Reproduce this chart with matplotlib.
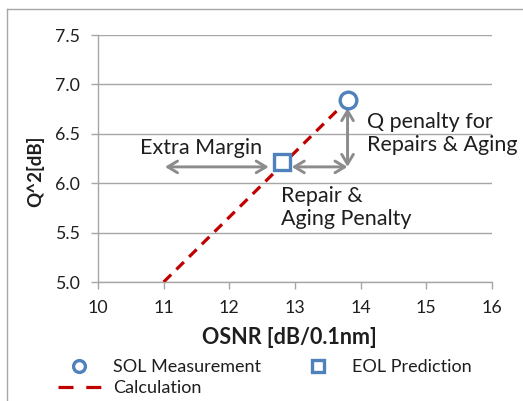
import matplotlib
matplotlib.use("Agg")
import matplotlib.pyplot as plt
from matplotlib.lines import Line2D

plt.rcParams['font.family'] = ['Lato', 'DejaVu Sans']

# Data
sol_x = [13.8]
sol_y = [6.84]
eol_x = [12.8]
eol_y = [6.215]
calc_x = [11.0, 13.8]
calc_y = [5.0, 6.84]
x_ticks = [10, 11, 12, 13, 14, 15, 16]
y_ticks = [5.0, 5.5, 6.0, 6.5, 7.0, 7.5]
y_tick_labels = ["5.0", "5.5", "6.0", "6.5", "7.0", "7.5"]

BLUE = "#4F81BD"
RED = "#C00000"
GRAY = "#8C8C8C"
GRID = "#A6A6A6"
TXT = "#1E1E1E"
FS_TICK = 12.8
FS_ANN = 15.5
FS_LEG = 13

fig = plt.figure(figsize=(5.23, 4.01), dpi=100)
ax = fig.add_axes([98/523, 1-282/401, (492-98)/523, (282-35)/401])

calc_line, = ax.plot(calc_x, calc_y, color=RED, lw=2.3, dashes=(3.3, 2.3),
                     label="Calculation", zorder=3)

# arrows
arrow_kw = dict(arrowstyle="<->,head_length=0.7,head_width=0.42", color=GRAY, lw=2.1,
                shrinkA=0, shrinkB=0)
ax.annotate("", xy=(12.6, 6.165), xytext=(11.02, 6.165), arrowprops=arrow_kw, zorder=2)
ax.annotate("", xy=(13.8, 6.165), xytext=(12.95, 6.165), arrowprops=arrow_kw, zorder=2)
ax.annotate("", xy=(13.8, 6.76), xytext=(13.8, 6.165), arrowprops=arrow_kw, zorder=2)

sol, = ax.plot(sol_x, sol_y, ls="none", marker="o", ms=12, mew=2.4, mec=BLUE, mfc="white",
               label="SOL Measurement", zorder=4)
eol, = ax.plot(eol_x, eol_y, ls="none", marker="s", ms=11, mew=2.4, mec=BLUE, mfc="white",
               label="EOL Prediction", zorder=4)

ax.text(10.64, 6.36, "Extra Margin", fontsize=FS_ANN, va="center", ha="left", color=TXT)
ax.text(14.09, 6.5, "Q penalty for\nRepairs & Aging", fontsize=FS_ANN, va="center",
        ha="left", linespacing=1.2, color=TXT)
ax.text(12.78, 5.755, "Repair &\nAging Penalty", fontsize=FS_ANN, va="center", ha="left",
        linespacing=1.2, color=TXT)

ax.set_xlim(10, 16)
ax.set_ylim(5.0, 7.5)
ax.set_xticks(x_ticks)
ax.set_yticks(y_ticks)
ax.set_yticklabels(y_tick_labels)
ax.tick_params(axis="both", labelsize=FS_TICK, colors=GRID, labelcolor=TXT,
               length=5, width=1)
ax.tick_params(axis="x", pad=8)
ax.tick_params(axis="y", pad=8)
ax.yaxis.grid(True, color=GRID, lw=1)
ax.set_axisbelow(True)
for s in ["top", "right"]:
    ax.spines[s].set_visible(False)
for s in ["left", "bottom"]:
    ax.spines[s].set_color(GRID)
    ax.spines[s].set_linewidth(1)

ax.set_xlabel("OSNR [dB/0.1nm]", fontsize=15.5, fontweight="bold", color=TXT)
ax.xaxis.set_label_coords((289-98)/394, (282-337)/247)
ax.xaxis.label.set_va("center")
ax.set_ylabel("Q^2[dB]", fontsize=13.5, fontweight="bold", color=TXT)
ax.yaxis.set_label_coords((35-98)/394, (282-171)/247)
ax.yaxis.label.set_va("center")

leg = fig.legend(handles=[sol, calc_line, eol], ncol=2, loc="upper left",
                 bbox_to_anchor=(58/523, 1-359/401), frameon=False, fontsize=FS_LEG,
                 handlelength=2.38, handletextpad=0.66, columnspacing=2.0,
                 labelspacing=0.28, borderaxespad=0, borderpad=0)
for h in leg.legend_handles:
    if h.get_marker() in ("o", "s"):
        h.set_markersize(8.5)
        h.set_markeredgewidth(2.4)
    else:
        h.set_dashes((4.7, 4.0))
for t in leg.get_texts():
    t.set_color(TXT)

# outer chart border
fig.add_artist(Line2D([7/523, 7/523], [0, 1-9/401], transform=fig.transFigure,
                      color="#A6A6A6", lw=1))
fig.add_artist(Line2D([7/523, 1], [1-9/401, 1-9/401], transform=fig.transFigure,
                      color="#A6A6A6", lw=1))

fig.savefig("out.png", dpi=100)
